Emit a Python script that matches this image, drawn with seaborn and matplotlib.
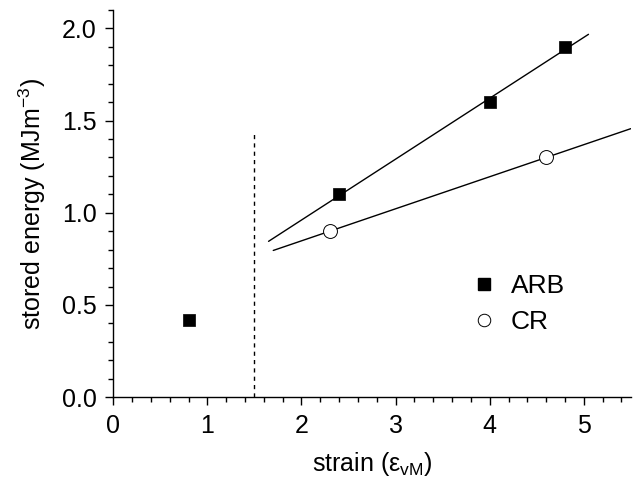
import numpy as np
import pandas as pd
import matplotlib
matplotlib.use("Agg")
import matplotlib.pyplot as plt
import seaborn as sns
from matplotlib.ticker import MultipleLocator
from matplotlib.lines import Line2D

sns.set_style("ticks")
plt.rcParams['font.family'] = ['Liberation Sans', 'DejaVu Sans']
plt.rcParams['mathtext.default'] = 'regular'
plt.rcParams['text.color'] = 'black'
plt.rcParams['axes.labelcolor'] = 'black'
plt.rcParams['xtick.color'] = 'black'
plt.rcParams['ytick.color'] = 'black'

arb_strain = [0.8, 2.4, 4.0, 4.8]
arb_energy = [0.42, 1.1, 1.6, 1.9]
cr_strain = [2.3, 4.6]
cr_energy = [0.9, 1.3]
arb_fit_range = [1.65, 5.05]
cr_fit_range = [1.7, 5.5]
threshold = 1.5
threshold_top = 1.44

fig = plt.figure(figsize=(6.34, 4.79), dpi=100)
ax = fig.add_axes([0.1787, 0.171, 0.8163, 0.808])

# fit lines (only high-strain ARB points)
a = np.array(arb_strain); e = np.array(arb_energy)
m = a > threshold
pa = np.polyfit(a[m], e[m], 1)
pc = np.polyfit(cr_strain, cr_energy, 1)
xa = np.array(arb_fit_range); xc = np.array(cr_fit_range)
ax.plot(xa, np.polyval(pa, xa), color='black', lw=1.0, zorder=1)
ax.plot(xc, np.polyval(pc, xc), color='black', lw=1.0, zorder=1)

ax.plot([threshold, threshold], [0, threshold_top], ls=(0, (3, 3)), color='black', lw=1.0)

df_arb = pd.DataFrame({'strain': arb_strain, 'energy': arb_energy})
df_cr = pd.DataFrame({'strain': cr_strain, 'energy': cr_energy})
sns.scatterplot(data=df_arb, x='strain', y='energy', marker='s', s=80, color='black',
                edgecolor='black', linewidth=0.5, ax=ax, zorder=3)
sns.scatterplot(data=df_cr, x='strain', y='energy', marker='o', s=100, facecolor='white',
                edgecolor='black', linewidth=0.7, ax=ax, zorder=3)

ax.set_xlim(0, 5.5)
ax.set_ylim(0, 2.1)
ax.xaxis.set_major_locator(MultipleLocator(1))
ax.xaxis.set_minor_locator(MultipleLocator(0.2))
ax.yaxis.set_major_locator(MultipleLocator(0.5))
ax.yaxis.set_minor_locator(MultipleLocator(0.1))
ax.set_yticks([0, 0.5, 1.0, 1.5, 2.0])
ax.set_yticklabels(['0.0', '0.5', '1.0', '1.5', '2.0'])
ax.tick_params(which='major', length=6, width=1, labelsize=18, direction='out',
               color='black', labelcolor='black', pad=6)
ax.tick_params(which='minor', length=3.5, width=1, direction='out', color='black')
for s in ['top', 'right']:
    ax.spines[s].set_visible(False)
for s in ['left', 'bottom']:
    ax.spines[s].set_linewidth(1.0)
    ax.spines[s].set_color('black')

ax.set_xlabel('strain (ε$_{vM}$)', fontsize=18, labelpad=9, color='black')
ax.set_ylabel('stored energy (MJm$^{-3}$)', fontsize=18, labelpad=10, color='black')

handles = [Line2D([], [], marker='s', ls='', color='black', markersize=9),
           Line2D([], [], marker='o', ls='', markerfacecolor='white', markeredgecolor='black',
                  markeredgewidth=0.7, markersize=9)]
leg = ax.legend(handles, ['ARB', 'CR'], frameon=False, fontsize=19, loc='center left',
                bbox_to_anchor=(0.64, 0.24), handletextpad=0.4, labelspacing=0.45, handlelength=1.2)
for t in leg.get_texts():
    t.set_color('black')

fig.savefig('out.png', dpi=100)
